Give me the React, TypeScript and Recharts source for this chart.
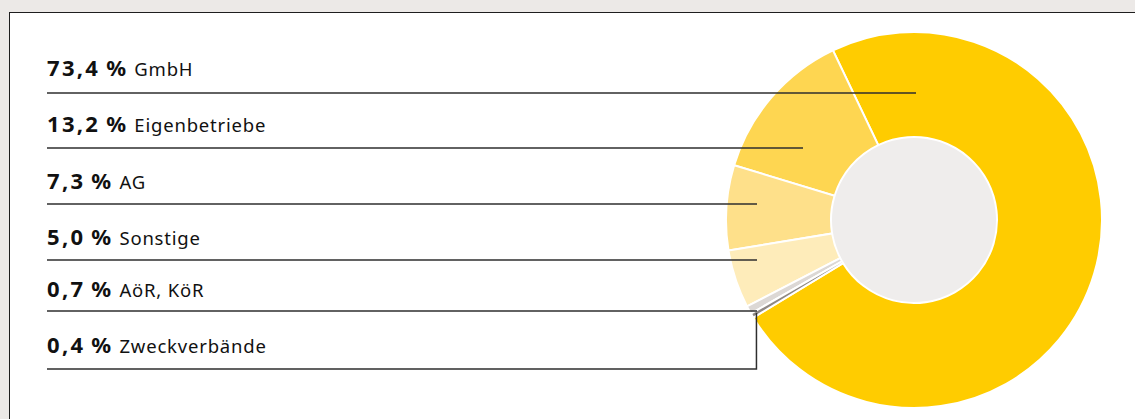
import { PieChart, Pie, Cell } from 'recharts'

const categories = ['GmbH', 'Eigenbetriebe', 'AG', 'Sonstige', 'AöR, KöR', 'Zweckverbände']
const shares = [73.4, 13.2, 7.3, 5.0, 0.7, 0.4]
const colors = ['#ffcc00', '#fed651', '#fee08a', '#feecba', '#dcd8d5', '#8f8883']

const data = categories.map((name, i) => ({ name, value: shares[i] }))
const hole = [{ name: 'hole', value: 1 }]

// layout of the left-hand label list
const TEXT_X = 47
const ROW_BASELINE = [76, 132, 189, 245, 297, 353]
const ROW_LINE = [93, 148, 204, 260, 311, 369]
// where each leader ends, relative to the pie centre
const LEADER_DX = [2, -111, -157, -157, -157, null]

const fmt = (v: number) => v.toFixed(1).replace('.', ',') + '\u2009%'

function LeaderLabel(props: any) {
  const { index, cx, cy, midAngle, value, name } = props
  const baseY = ROW_BASELINE[index]
  const lineY = ROW_LINE[index]
  const dx = LEADER_DX[index]
  let path: string
  if (dx === null) {
    // elbow line up into the thin slice
    const rad = (-midAngle * Math.PI) / 180
    const tx = cx + 183 * Math.cos(rad)
    const ty = cy + 183 * Math.sin(rad)
    path = `M${TEXT_X},${lineY} H${tx} V${ty}`
  } else {
    path = `M${TEXT_X},${lineY} H${cx + dx}`
  }
  return (
    <g>
      <path d={path} stroke="#2e2e2e" strokeWidth={1.5} fill="none" />
      <text x={TEXT_X} y={baseY} fill="#111" fontFamily="'Noto Sans', sans-serif">
        <tspan fontWeight={700} fontSize={22} letterSpacing={2.3}>{fmt(value)}</tspan>
        <tspan dx={6} fontSize={18.5} letterSpacing={0.8}>{name}</tspan>
      </text>
    </g>
  )
}

export default function App() {
  return (
    <div
      style={{
        position: 'fixed',
        left: 0,
        top: 0,
        width: 1135,
        height: 419,
        background: '#ece9e7',
        overflow: 'hidden',
      }}
    >
      <div
        style={{
          position: 'absolute',
          left: 9,
          top: 12,
          width: 1200,
          height: 500,
          background: '#fff',
          border: '1.5px solid #1e1e1e',
        }}
      />
      <div style={{ position: 'absolute', left: 0, top: 0 }}>
        <PieChart width={1135} height={419} margin={{ top: 0, right: 0, bottom: 0, left: 0 }}>
          <Pie
            data={data}
            dataKey="value"
            nameKey="name"
            cx={914}
            cy={220}
            innerRadius={83}
            outerRadius={188}
            startAngle={-148.7}
            endAngle={211.3}
            stroke="#fff"
            strokeWidth={2}
            label={LeaderLabel}
            labelLine={false}
            isAnimationActive={false}
          >
            {data.map((d, i) => (
              <Cell key={d.name} fill={colors[i]} />
            ))}
          </Pie>
          <Pie
            data={hole}
            dataKey="value"
            cx={914}
            cy={220}
            innerRadius={0}
            outerRadius={82}
            fill="#efedec"
            stroke="none"
            isAnimationActive={false}
          />
        </PieChart>
      </div>
    </div>
  )
}
